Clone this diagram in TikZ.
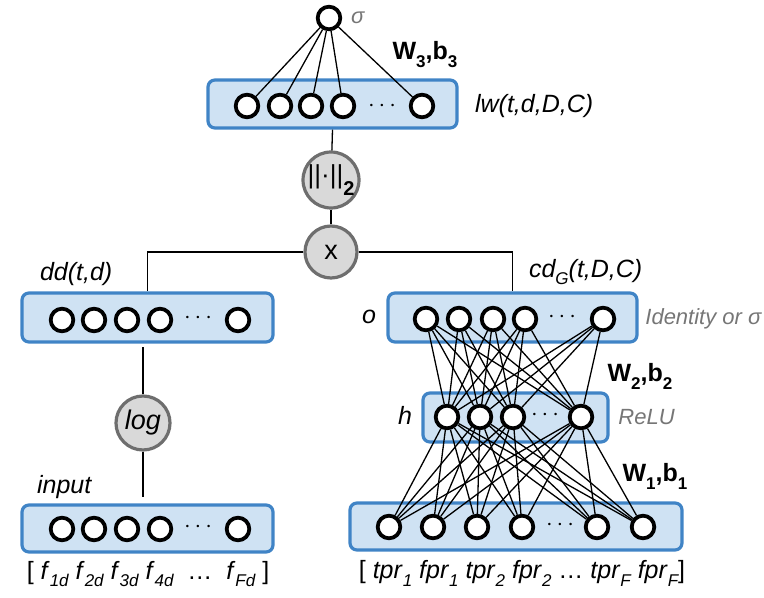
\documentclass[tikz,border=0pt]{standalone}
\usepackage{fontspec}
\setmainfont{Liberation Sans}
\definecolor{boxblue}{RGB}{64,132,198}
\definecolor{boxfill}{RGB}{207,226,243}
\definecolor{opgray}{RGB}{110,110,110}
\definecolor{opfill}{RGB}{217,217,217}
\definecolor{labgray}{RGB}{118,118,118}
\newcommand{\sbs}[1]{\raisebox{-0.6ex}{\fontsize{8.5}{9}\selectfont #1}}
\begin{document}
\begin{tikzpicture}[x=0.5pt,y=-0.5pt,
  font=\fontsize{12.5}{14}\selectfont,
  box/.style={rectangle, draw=boxblue, fill=boxfill, line width=1.6pt, rounded corners=3.5pt, inner sep=0},
  neuron/.style={circle, draw=black, fill=white, line width=1.9pt, minimum size=11.3pt, inner sep=0},
  opnode/.style={circle, draw=opgray, fill=opfill, line width=1.6pt, minimum size=27pt, inner sep=0},
  conn/.style={line width=0.65pt},
  glabel/.style={text=labgray, font=\fontsize{11}{12}\selectfont\itshape},
  ilabel/.style={font=\fontsize{12.5}{14}\selectfont\itshape},
  wlabel/.style={font=\fontsize{12.5}{14}\selectfont\bfseries},
  dotsl/.style={inner sep=0},
]
\useasboundingbox (0,0) rectangle (764,598);

% ---- boxes
\node[box, minimum width=124.5pt, minimum height=24pt] (lw) at (332.5,104) {};
\node[box, minimum width=125.5pt, minimum height=24.5pt] (dd) at (147.5,317.5) {};
\node[box, minimum width=125.5pt, minimum height=23.5pt] (inp) at (147.5,528.5) {};
\node[box, minimum width=124.5pt, minimum height=24.5pt] (ob) at (512.5,317.5) {};
\node[box, minimum width=92.5pt, minimum height=24.5pt] (hb) at (515.5,417.5) {};
\node[box, minimum width=166pt, minimum height=23.5pt] (bb) at (516,526.5) {};

% ---- top sigma
\node[neuron] (sig) at (329,18) {};
\node[glabel, anchor=west] (siglab) at (344,18) {σ};
\node[wlabel] (w3) at (425,55) {W\sbs{3},b\sbs{3}};
\node[ilabel, anchor=west] (lwlab) at (468,106) {lw(t,d,D,C)};

% lw neurons
\foreach \i/\x in {1/247,2/280,3/311,4/343,5/422}{
  \node[neuron] (l\i) at (\x,106) {};
  \draw[conn] (sig) -- (l\i);
}
\node[dotsl] (ldots) at (382,106) {$\cdots$};

% ---- operators
\node[opnode] (norm) at (331,180) {\raisebox{0.1ex}{\fontsize{13}{14}\selectfont ||\textperiodcentered||}\raisebox{-0.8ex}{\fontsize{10}{11}\selectfont\bfseries 2}};
\node[opnode, minimum size=26pt] (mul) at (331,252) {\fontsize{13.5}{14}\selectfont x};
\draw[conn] (lw.south) -- (norm);
\draw[conn] (norm) -- (mul);
\draw[conn] (mul.west) -| (dd.north);
\draw[conn] (mul.east) -| (ob.north);

% ---- left branch
\node[ilabel, anchor=west] (ddlab) at (33,274) {dd(t,d)};
\foreach \i/\x in {1/62,2/94,3/127,4/160,5/238}{
  \node[neuron] (d\i) at (\x,320) {};
}
\node[dotsl] (ddots) at (198,318) {$\cdots$};
\node[opnode] (logn) at (143,423) {\fontsize{13.5}{14}\selectfont\itshape log};
\coordinate (la) at (143,347);
\coordinate (lb) at (143,497);
\draw[conn] (la) -- (logn);
\draw[conn] (logn) -- (lb);
\node[ilabel, anchor=west] (inlab) at (30,487) {input};
\foreach \i/\x in {1/62,2/94,3/127,4/160,5/238}{
  \node[neuron] (f\i) at (\x,529) {};
}
\node[dotsl] (fdots) at (198,527) {$\cdots$};
\node (flab) at (148,574) {[ \textit{f}\sbs{\itshape 1d} \textit{f}\sbs{\itshape 2d} \textit{f}\sbs{\itshape 3d} \textit{f}\sbs{\itshape 4d}\ \ …\ \ \textit{f}\sbs{\itshape Fd} ]};

% ---- right branch
\node[ilabel, anchor=west] (cdlab) at (522,272) {cd\sbs{\itshape G}(t,D,C)};
\node[ilabel] (olab) at (369,317) {o};
\node[glabel, anchor=west, inner sep=0] (idlab) at (645,319) {Identity or σ};
\foreach \i/\x in {1/426,2/459,3/493,4/525,5/603}{
  \node[neuron] (o\i) at (\x,319) {};
}
\node[dotsl] (odots) at (562,317) {$\cdots$};
\node[wlabel] (w2) at (640,376) {W\sbs{2},b\sbs{2}};
\node[ilabel] (hlab) at (405,415) {h};
\node[glabel, anchor=west, inner sep=0] (relu) at (618,417) {ReLU};
\foreach \i/\x in {1/447,2/480,3/513,4/581}{
  \node[neuron] (h\i) at (\x,417) {};
}
\node[dotsl] (hdots) at (545,415) {$\cdots$};
\node[wlabel] (w1) at (655,476) {W\sbs{1},b\sbs{1}};
\foreach \i/\x in {1/389,2/433,3/477,4/522,5/597,6/643}{
  \node[neuron] (b\i) at (\x,527) {};
}
\node[dotsl] (bdots) at (560,525) {$\cdots$};
\node (tlab) at (522,573) {[ \textit{tpr}\sbs{\itshape 1} \textit{fpr}\sbs{\itshape 1} \textit{tpr}\sbs{\itshape 2} \textit{fpr}\sbs{\itshape 2} … \textit{tpr}\sbs{\itshape F} \textit{fpr}\sbs{\itshape F}]};

\foreach \i in {1,...,5}{
  \foreach \j in {1,...,4}{
    \draw[conn] (o\i) -- (h\j);
  }
}
\foreach \i in {1,...,4}{
  \foreach \j in {1,...,6}{
    \draw[conn] (h\i) -- (b\j);
  }
}
\end{tikzpicture}
\end{document}
